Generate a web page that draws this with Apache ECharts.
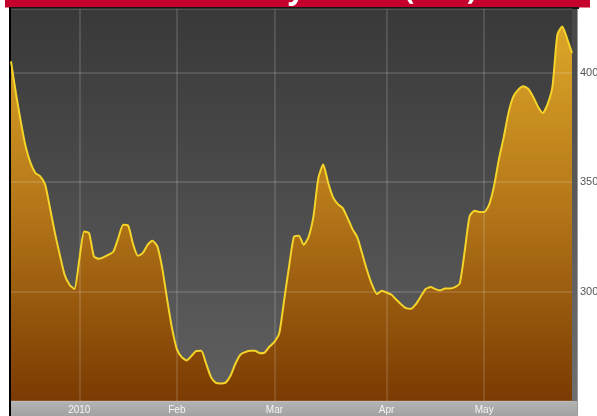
<!DOCTYPE html>
<html>
<head>
<meta charset="utf-8">
<script src="https://cdn.jsdelivr.net/npm/echarts@6/dist/echarts.min.js"></script>
<style>
html,body{margin:0;padding:0;background:#fff;}
#chart{width:597px;height:416px;}
</style>
</head>
<body>
<div id="chart"></div>
<script>
// Trading days (categories)
var dates = [
 '2009-12-10','2009-12-11','2009-12-14','2009-12-15','2009-12-16','2009-12-17','2009-12-18','2009-12-21','2009-12-22','2009-12-23','2009-12-24','2009-12-29','2009-12-30','2009-12-31',
 '2010-01-04','2010-01-05','2010-01-06','2010-01-07','2010-01-08','2010-01-11','2010-01-12','2010-01-13','2010-01-14','2010-01-15','2010-01-18','2010-01-19','2010-01-20','2010-01-21','2010-01-22','2010-01-25','2010-01-26','2010-01-27','2010-01-28','2010-01-29',
 '2010-02-01','2010-02-02','2010-02-03','2010-02-04','2010-02-05','2010-02-08','2010-02-09','2010-02-10','2010-02-11','2010-02-12','2010-02-15','2010-02-16','2010-02-17','2010-02-18','2010-02-19','2010-02-22','2010-02-23','2010-02-24','2010-02-25','2010-02-26',
 '2010-03-01','2010-03-02','2010-03-03','2010-03-04','2010-03-05','2010-03-08','2010-03-09','2010-03-10','2010-03-11','2010-03-12','2010-03-15','2010-03-16','2010-03-17','2010-03-18','2010-03-19','2010-03-22','2010-03-23','2010-03-24','2010-03-25','2010-03-26','2010-03-29','2010-03-30','2010-03-31',
 '2010-04-01','2010-04-06','2010-04-07','2010-04-08','2010-04-09','2010-04-12','2010-04-13','2010-04-14','2010-04-15','2010-04-16','2010-04-19','2010-04-20','2010-04-21','2010-04-22','2010-04-23','2010-04-26','2010-04-27','2010-04-28','2010-04-29','2010-04-30',
 '2010-05-04','2010-05-05','2010-05-06','2010-05-07','2010-05-10','2010-05-11','2010-05-12','2010-05-13','2010-05-14','2010-05-17','2010-05-18','2010-05-19','2010-05-20','2010-05-21','2010-05-24','2010-05-25','2010-05-26','2010-05-27','2010-05-28'
];

// Index values
var values = [
 4051,3907,3777,3663,3587,3541,3526,3488,3381,3267,3168,3076,3031,3011,
 3145,3274,3267,3160,3149,3157,3168,3183,3244,3305,3302,3218,3163,3175,3213,3232,3206,3107,2965,2833,
 2737,2700,2685,2706,2728,2729,2670,2609,2583,2580,2584,2615,2670,2711,2723,2729,2730,2718,2721,2749,
 2770,2810,2962,3114,3250,3255,3213,3249,3343,3518,3580,3498,3431,3399,3381,3335,3285,3247,3172,3096,3031,2989,3003,
 2995,2985,2962,2941,2924,2921,2942,2977,3011,3020,3011,3005,3014,3014,3020,3038,3183,3343,3369,3363,
 3363,3396,3480,3602,3704,3818,3891,3922,3937,3926,3891,3845,3815,3856,3937,4173,4210,4155,4089
];

// Month tick positions and labels
var monthStarts = ['2010-01-04','2010-02-01','2010-03-01','2010-04-01','2010-05-04'];
var monthLabels = ['2010','Feb','Mar','Apr','May'];

var titleText = 'Baltic Dry Index (BDI)';

function isMonthStart(idx, val) { return monthStarts.indexOf(val) >= 0; }

var chart = echarts.init(document.getElementById('chart'), null, {renderer:'canvas'});
var gridLine = {color:'rgba(255,255,255,0.17)', width:1.5};

chart.setOption({
  animation:false,
  grid:{
    left:11, top:9, right:25, bottom:15, show:true, borderWidth:0,
    containLabel:false, outerBoundsMode:'none',
    backgroundColor:new echarts.graphic.LinearGradient(0,0,0,1,[
      {offset:0,color:'#393939'},{offset:1,color:'#606060'}
    ])
  },
  xAxis:{
    type:'category', data:dates, boundaryGap:false, z:3,
    axisLine:{show:false}, axisTick:{show:false},
    axisLabel:{
      interval:isMonthStart,
      formatter:function(v){ var k = monthStarts.indexOf(v); return k>=0 ? monthLabels[k] : ''; },
      color:'#f4f4f4', fontSize:10, fontFamily:'Liberation Sans', margin:4
    },
    splitLine:{show:true, interval:isMonthStart, lineStyle:gridLine}
  },
  yAxis:{
    type:'value', position:'right', min:2500, max:4290, interval:500, z:3,
    axisLine:{show:false}, axisTick:{show:false},
    axisLabel:{color:'#555', fontSize:11, fontFamily:'Liberation Sans', margin:8,
      showMinLabel:false, showMaxLabel:false,
      formatter:function(v){ return String(v); }},
    splitLine:{show:true, lineStyle:gridLine}
  },
  series:[
    {
      type:'line', data:values, symbol:'none', smooth:0.2, z:1,
      lineStyle:{width:0},
      areaStyle:{
        opacity:1,
        color:new echarts.graphic.LinearGradient(0,0,0,1,[
          {offset:0,color:'#dca628'},{offset:0.5,color:'#b27518'},{offset:1,color:'#7a3a02'}
        ])
      },
      silent:true
    },
    {
      type:'line', data:values, symbol:'none', smooth:0.2, z:4,
      lineStyle:{color:'#f4d428', width:2}
    }
  ],
  graphic:[
    {type:'rect', z:0, shape:{x:5,y:0,width:585,height:7.5}, style:{fill:'#c5002d'}},
    {type:'text', z:1, style:{x:318, y:5, text:titleText, fill:'#ffffff',
      font:'bold 30px "Open Sans"', align:'center', verticalAlign:'bottom'}},
    {type:'rect', z:2, shape:{x:9,y:7,width:570,height:2}, style:{fill:'#151515'}},
    {type:'rect', z:2, shape:{x:9,y:7,width:2,height:409}, style:{fill:'#000000'}},
    {type:'rect', z:2, shape:{x:572,y:9,width:6,height:392}, style:{
      fill:new echarts.graphic.LinearGradient(0,0,0,1,[{offset:0,color:'#474747'},{offset:1,color:'#6e6e6e'}])}},
    {type:'rect', z:2, shape:{x:577,y:9,width:1,height:407}, style:{fill:'#9a9a9a'}},
    {type:'rect', z:0, shape:{x:11,y:401,width:567,height:15}, style:{
      fill:new echarts.graphic.LinearGradient(0,0,0,1,[{offset:0,color:'#b4b4b4'},{offset:1,color:'#a2a2a2'}])}}
  ]
});
</script>
</body>
</html>
